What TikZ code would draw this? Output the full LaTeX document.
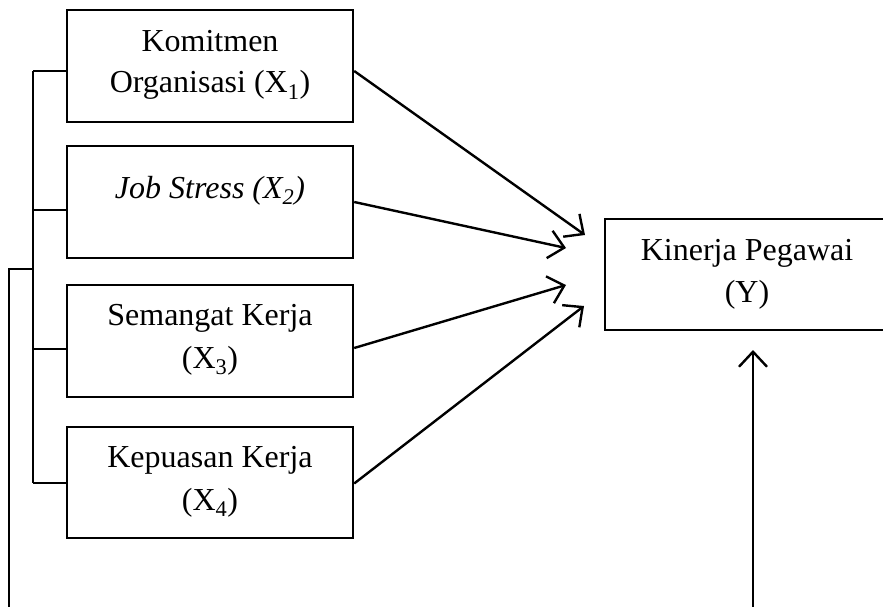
\documentclass[tikz,border=0pt]{standalone}
\usepackage{fontspec}
\setmainfont{Liberation Serif}
\usetikzlibrary{arrows.meta}
\begin{document}
\begin{tikzpicture}[x=1pt,y=-1pt,
  line width=2.4pt,
  box/.style={draw,line width=2.4pt,rectangle,inner sep=0pt},
  lbl/.style={anchor=base,inner sep=0pt,font=\fontsize{32}{42}\selectfont},
  arr/.style={-{Straight Barb[length=15pt,width=28pt,line width=2.4pt]}},
  conn/.style={line width=2.4pt}]
\useasboundingbox (0,0) rectangle (883,607);
\clip (0,0) rectangle (883,607);
% boxes
\node[box,minimum width=286pt,minimum height=112pt] (b1) at (210,66) {};
\node[box,minimum width=286pt,minimum height=112pt] (b2) at (210,202) {};
\node[box,minimum width=286pt,minimum height=112pt] (b3) at (210,341) {};
\node[box,minimum width=286pt,minimum height=111pt] (b4) at (210,482.5) {};
\node[box,minimum width=340pt,minimum height=111pt] (y) at (775,274.5) {};
% labels
\node[lbl] (t1a) at (210,52) {Komitmen};
\node[lbl] (t1b) at (210,93) {Organisasi (X\textsubscript{1})};
\node[lbl] (t2) at (210,198) {\textit{Job Stress (X\textsubscript{2})}};
\node[lbl] (t3a) at (210,325) {Semangat Kerja};
\node[lbl] (t3b) at (210,368) {(X\textsubscript{3})};
\node[lbl] (t4a) at (210,467) {Kepuasan Kerja};
\node[lbl] (t4b) at (210,510) {(X\textsubscript{4})};
\node[lbl] (tya) at (747,260) {Kinerja Pegawai};
\node[lbl] (tyb) at (747,302) {(Y)};
% arrow tips and free ends
\coordinate (a1) at (585,235);
\coordinate (a2) at (566,248);
\coordinate (a3) at (566,285);
\coordinate (a4) at (584,306);
\coordinate (bot) at (753,610);
\coordinate (ytip) at (753,350);
\coordinate (k1) at (33,71);
\coordinate (k2) at (33,210);
\coordinate (k3) at (33,349);
\coordinate (k4) at (33,483);
\coordinate (o1) at (9,269);
\coordinate (o0) at (9,610);
% arrows
\draw[arr] ([yshift=-5pt]b1.east) -- (a1);
\draw[arr] (b2.east) -- (a2);
\draw[arr] ([yshift=-7pt]b3.east) -- (a3);
\draw[arr] ([yshift=-1pt]b4.east) -- (a4);
\draw[arr] (bot) -- (ytip);
% bracket
\draw[conn] (k1) -- (k4);
\draw[conn] (k1) -- (k1 -| b1.west);
\draw[conn] (k2) -- (k2 -| b2.west);
\draw[conn] (k3) -- (k3 -| b3.west);
\draw[conn] (k4) -- (k4 -| b4.west);
\draw[conn] (o0) -- (o1) -- (o1 -| k1);
\end{tikzpicture}
\end{document}
